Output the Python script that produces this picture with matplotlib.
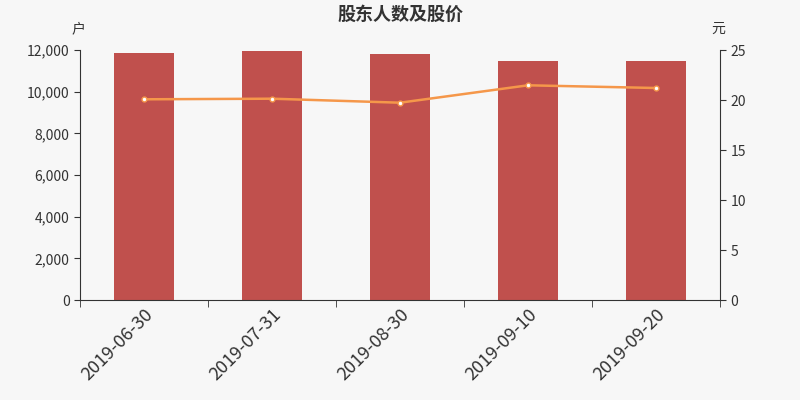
import numpy as np
import matplotlib.pyplot as plt
from matplotlib.ticker import FuncFormatter, FixedLocator

plt.rcParams['font.family'] = ['Noto Sans CJK SC', 'DejaVu Sans']

dates = ['2019-06-30', '2019-07-31', '2019-08-30', '2019-09-10', '2019-09-20']
holders = [11856, 11975, 11808, 11472, 11472]
price = [20.07, 20.13, 19.73, 21.47, 21.2]

bg_color = '#f7f7f7'
text_color = '#333333'

fig = plt.figure(figsize=(8, 4), dpi=100, facecolor=bg_color)
ax_bar = fig.add_axes([0.1, 0.25, 0.8, 0.625], facecolor=bg_color)
x_pos = np.arange(len(dates))

ax_bar.bar(x_pos, holders, width=0.47, color='#c0504d', zorder=2)
ax_bar.set_xlim(-0.5, len(dates) - 0.5)
ax_bar.set_ylim(0, 12000)
ax_bar.set_yticks(np.arange(0, 12001, 2000))
ax_bar.yaxis.set_major_formatter(FuncFormatter(lambda v, p: f'{int(v):,}'))
ax_bar.set_xticks(x_pos)
ax_bar.set_xticklabels(dates, rotation=45, ha='right', rotation_mode='anchor', fontsize=13, color=text_color)
ax_bar.tick_params(axis='x', which='major', length=0, pad=4)
ax_bar.xaxis.set_minor_locator(FixedLocator(np.arange(-0.5, len(dates), 1.0)))
ax_bar.tick_params(axis='x', which='minor', length=5, color=text_color)
ax_bar.tick_params(axis='y', labelsize=10, colors=text_color, length=4)
for side in ['top', 'right']:
    ax_bar.spines[side].set_visible(False)
for side in ['left', 'bottom']:
    ax_bar.spines[side].set_color(text_color)

ax_line = ax_bar.twinx()
ax_line.plot(x_pos, price, color='#f5974a', linewidth=1.8, marker='o', markersize=3.5,
             markerfacecolor='white', markeredgecolor='#f5974a', markeredgewidth=1, zorder=3)
ax_line.set_ylim(0, 25)
ax_line.set_yticks(np.arange(0, 26, 5))
ax_line.tick_params(axis='y', labelsize=10, colors=text_color, length=4)
for side in ['top', 'left', 'bottom']:
    ax_line.spines[side].set_visible(False)
ax_line.spines['right'].set_color(text_color)

fig.text(0.5, 0.965, '股东人数及股价', ha='center', va='center', fontsize=13,
         fontweight='bold', color=text_color)
fig.text(0.098, 0.928, '户', ha='center', va='center', fontsize=10, color=text_color)
fig.text(0.898, 0.928, '元', ha='center', va='center', fontsize=10, color=text_color)

fig.savefig('out.png', dpi=100, facecolor=bg_color)
